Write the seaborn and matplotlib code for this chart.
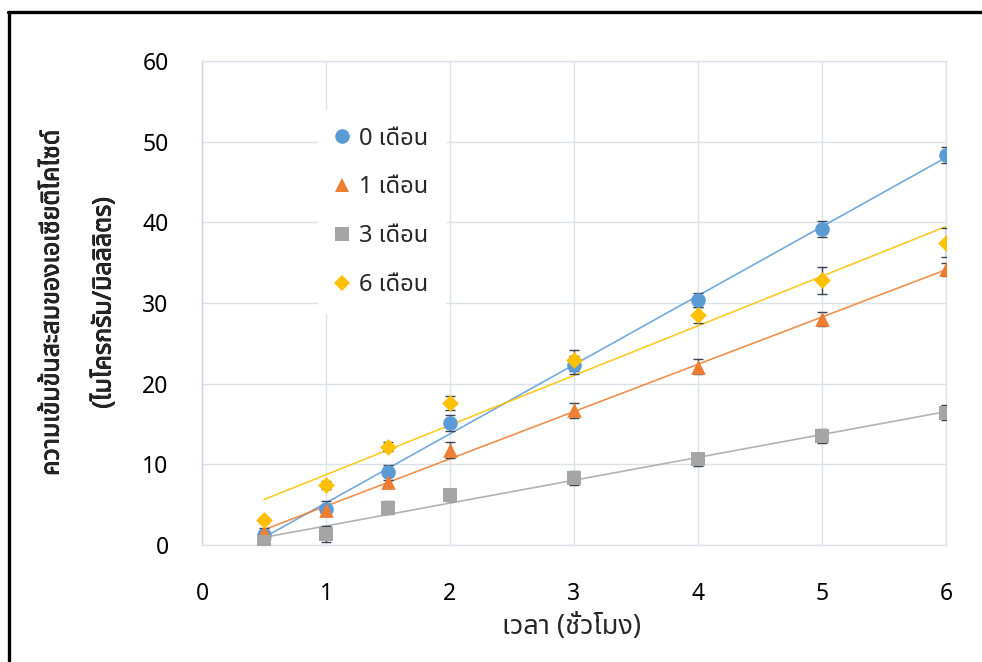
import numpy as np
import pandas as pd
import seaborn as sns
import matplotlib
matplotlib.use("Agg")
import matplotlib.pyplot as plt
import matplotlib.patheffects as pe
from matplotlib import font_manager as fm
from matplotlib.ft2font import FT2Font
from matplotlib.lines import Line2D

# ---- data -------------------------------------------------------------
hours = [0.5, 1, 1.5, 2, 3, 4, 5, 6]
series_names = ["0 เดือน", "1 เดือน", "3 เดือน", "6 เดือน"]

conc_0m = [1.3, 4.5, 9.0, 15.1, 22.3, 30.4, 39.2, 48.4]
conc_1m = [1.6, 4.3, 7.8, 11.8, 16.7, 22.1, 28.0, 34.2]
conc_3m = [0.4, 1.4, 4.6, 6.2, 8.3, 10.6, 13.5, 16.4]
conc_6m = [3.1, 7.4, 12.2, 17.6, 22.9, 28.5, 32.8, 37.5]

err_0m = [0.5, 0.9, 0.9, 1.0, 1.1, 0.9, 1.0, 1.0]
err_1m = [0.5, 0.7, 0.7, 1.0, 0.9, 0.9, 0.9, 0.8]
err_3m = [0.4, 1.0, 0.8, 0.8, 0.9, 0.8, 0.9, 0.9]
err_6m = [0.4, 0.5, 0.6, 0.9, 1.3, 1.0, 1.65, 1.85]

x_ticks = [0, 1, 2, 3, 4, 5, 6]
y_ticks = [0, 10, 20, 30, 40, 50, 60]

x_label = "เวลา (ชั่วโมง)"
y_label = "ความเข้มข้นสะสมของเอเซียติโคไซด์\n(ไมโครกรัม/มิลลิลิตร)"

colors = ["#5B9BD5", "#ED7D31", "#A5A5A5", "#FFC000"]
markers = ["o", "^", "s", "D"]
marker_sizes = [10.5, 10.5, 9.5, 8.5]


# ---- font with Thai glyphs ---------------------------------------------
def find_thai_family():
    found = []
    for f in fm.fontManager.ttflist:
        try:
            cmap = FT2Font(f.fname).get_charmap()
        except Exception:
            continue
        if 0x0E40 in cmap and 0x0E14 in cmap and 0x0E27 in cmap:
            found.append(f.name)
    preferred = ["Tahoma", "Leelawadee UI", "Leelawadee", "Noto Sans Thai",
                 "Noto Sans Thai UI", "Sarabun", "Loma", "Garuda",
                 "Norasi", "Kinnari", "Waree", "Umpush", "Laksaman"]
    for p in preferred:
        if p in found:
            return p
    return found[0] if found else None


sns.set_theme(style="white")
thai = find_thai_family()
families = ([thai] if thai else []) + ["DejaVu Sans"]
plt.rcParams["font.family"] = families

# ---- tidy table ---------------------------------------------------------
values = [conc_0m, conc_1m, conc_3m, conc_6m]
errors = [err_0m, err_1m, err_3m, err_6m]
df = pd.DataFrame({
    "hour": np.tile(hours, len(series_names)),
    "conc": np.concatenate(values),
    "err": np.concatenate(errors),
    "group": np.repeat(series_names, len(hours)),
})

fig = plt.figure(figsize=(9.82, 6.62), dpi=100)
ax = fig.add_axes([202 / 982, 1 - 545 / 662, 744 / 982, 484 / 662])

grid_c = "#DDE1EA"
for i, name in enumerate(series_names):
    sub = df[df["group"] == name]
    # linear trendline
    sns.regplot(data=sub, x="hour", y="conc", ax=ax, scatter=False, ci=None,
                truncate=True, line_kws=dict(color=colors[i], lw=1.2,
                                             alpha=0.85, zorder=2))
    ax.errorbar(sub["hour"], sub["conc"], yerr=sub["err"], fmt="none",
                ecolor="#3B4252", elinewidth=1.0, capsize=3.5,
                capthick=1.0, zorder=3)
    sns.scatterplot(data=sub, x="hour", y="conc", ax=ax, marker=markers[i],
                    color=colors[i], s=marker_sizes[i] ** 2, linewidth=0,
                    zorder=4, legend=False)

ax.set_xlim(0, 6)
ax.set_ylim(0, 60)
ax.set_xticks(x_ticks)
ax.set_yticks(y_ticks)
ax.set_xticklabels([str(t) for t in x_ticks])
ax.set_yticklabels([str(t) for t in y_ticks])
ax.grid(True, color=grid_c, lw=1.0)
ax.set_axisbelow(True)
for s in ax.spines.values():
    s.set_color(grid_c)
    s.set_linewidth(1.0)
ax.spines["left"].set_color("#C9D3E3")
ax.tick_params(axis="both", length=0, labelsize=16.5, colors="black")
ax.tick_params(axis="x", pad=27)
ax.tick_params(axis="y", pad=24)
ax.set_xlabel("")
ax.set_ylabel("")

# axis titles
fig.text(572 / 982, 1 - 627 / 662, x_label, ha="center", va="center",
         fontsize=19.5)
bold = [pe.withStroke(linewidth=0.6, foreground="black")]
fig.text(78 / 982, 1 - 303 / 662, y_label, ha="center", va="center",
         rotation=90, fontsize=18, linespacing=2.35,
         multialignment="center", path_effects=bold)

# legend
handles = [Line2D([0], [0], marker=markers[i], color="none",
                  markerfacecolor=colors[i], markeredgewidth=0,
                  markersize=marker_sizes[i])
           for i in range(len(series_names))]
leg = ax.legend(handles, series_names, loc="upper left",
                bbox_to_anchor=((318 - 202) / 744, (545 - 110) / 484),
                frameon=True, fontsize=17, handlelength=0.6,
                handletextpad=0.45, labelspacing=1.05, borderpad=0.7,
                borderaxespad=0)
leg.get_frame().set_facecolor("white")
leg.get_frame().set_edgecolor("white")
leg.get_frame().set_alpha(1)

# outer frame lines (top and left)
fig.add_artist(Line2D([8 / 982, 1], [1 - 12 / 662, 1 - 12 / 662],
                      transform=fig.transFigure, color="black", lw=2.4))
fig.add_artist(Line2D([9 / 982, 9 / 982], [0, 1 - 12 / 662],
                      transform=fig.transFigure, color="black", lw=2.4))

fig.savefig("out.png", dpi=100)
